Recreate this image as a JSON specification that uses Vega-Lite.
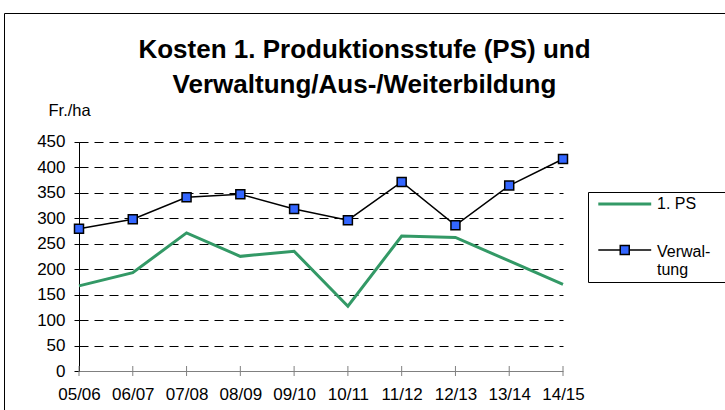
{
  "$schema": "https://vega.github.io/schema/vega-lite/v6.json",
  "width": 721,
  "height": 397,
  "autosize": {"type": "none"},
  "padding": {"left": 4, "top": 13, "right": 0, "bottom": 0},
  "background": "white",
  "config": {
    "font": "Liberation Sans",
    "view": {"stroke": "black", "strokeWidth": 1, "strokeDash": [721, 1118, 397, 0]}
  },
  "title": {
    "text": ["Kosten 1. Produktionsstufe (PS) und", "Verwaltung/Aus-/Weiterbildung"],
    "font": "Liberation Sans",
    "fontSize": 26,
    "fontWeight": "bold",
    "color": "black",
    "lineHeight": 35,
    "offset": -85,
    "anchor": "middle",
    "frame": "group"
  },
  "data": {
    "values": [
      {"year": "05/06", "series": "1. PS", "value": 167},
      {"year": "06/07", "series": "1. PS", "value": 193},
      {"year": "07/08", "series": "1. PS", "value": 271},
      {"year": "08/09", "series": "1. PS", "value": 225},
      {"year": "09/10", "series": "1. PS", "value": 235},
      {"year": "10/11", "series": "1. PS", "value": 127},
      {"year": "11/12", "series": "1. PS", "value": 265},
      {"year": "12/13", "series": "1. PS", "value": 262},
      {"year": "13/14", "series": "1. PS", "value": 216},
      {"year": "14/15", "series": "1. PS", "value": 170},
      {"year": "05/06", "series": "Verwaltung", "value": 279},
      {"year": "06/07", "series": "Verwaltung", "value": 298},
      {"year": "07/08", "series": "Verwaltung", "value": 341},
      {"year": "08/09", "series": "Verwaltung", "value": 347},
      {"year": "09/10", "series": "Verwaltung", "value": 318},
      {"year": "10/11", "series": "Verwaltung", "value": 296},
      {"year": "11/12", "series": "Verwaltung", "value": 371},
      {"year": "12/13", "series": "Verwaltung", "value": 286},
      {"year": "13/14", "series": "Verwaltung", "value": 364},
      {"year": "14/15", "series": "Verwaltung", "value": 416}
    ]
  },
  "encoding": {
    "x": {
      "field": "year",
      "type": "ordinal",
      "sort": null,
      "scale": {"type": "point", "range": [75, 559], "padding": 0},
      "axis": {
        "title": null,
        "offset": -39,
        "domainColor": "#808080",
        "domainWidth": 1,
        "ticks": false,
        "tickSize": 0,
        "labelPadding": 15,
        "labelAngle": 0,
        "labelFont": "Liberation Sans",
        "labelFontSize": 17,
        "labelColor": "black",
        "grid": false
      }
    },
    "y": {
      "field": "value",
      "type": "quantitative",
      "scale": {"domain": [0, 450], "range": [358, 128.7], "nice": false, "zero": true},
      "axis": {
        "title": "Fr./ha",
        "titleAngle": 0,
        "titleAlign": "left",
        "titleBaseline": "alphabetic",
        "titleX": -31,
        "titleY": 102,
        "titleFont": "Liberation Sans",
        "titleFontSize": 16.5,
        "titleFontWeight": "normal",
        "titleColor": "black",
        "offset": -75,
        "values": [0, 50, 100, 150, 200, 250, 300, 350, 400, 450],
        "domainColor": "black",
        "tickColor": "black",
        "tickSize": 5,
        "labelPadding": 9,
        "labelFont": "Liberation Sans",
        "labelFontSize": 17,
        "labelColor": "black",
        "grid": true,
        "gridColor": "black",
        "gridDash": [9, 6],
        "gridOpacity": {"condition": {"test": "datum.value === 0", "value": 0}, "value": 1}
      }
    }
  },
  "layer": [
    {
      "transform": [{"filter": "datum.series == '1. PS'"}],
      "mark": {"type": "line", "strokeWidth": 3},
      "encoding": {
        "color": {
          "field": "series",
          "type": "nominal",
          "scale": {"domain": ["1. PS", "Verwaltung"], "range": ["#339966", "#000000"]},
          "legend": {
            "title": null,
            "orient": "none",
            "legendX": 584,
            "legendY": 179,
            "strokeColor": "black",
            "fillColor": "white",
            "padding": 4,
            "cornerRadius": 0,
            "labelFont": "Liberation Sans",
            "labelFontSize": 16,
            "labelColor": "black",
            "labelLimit": 300,
            "symbolSize": 324,
            "symbolStrokeWidth": 1.5,
            "rowPadding": 30,
            "labelOffset": 49,
            "labelExpr": "datum.label == 'Verwaltung' ? ['Verwal-', 'tung'] : datum.label",
            "encode": {
              "symbols": {
                "update": {
                  "shape": {"signal": "datum.value == 'Verwaltung' ? 'M-0.19,0H2.25M3.25,0H5.69M2.25,-0.5H3.25V0.5H2.25ZM13.1,0' : 'M-0.19,0H5.69M13.1,0'"},
                  "fill": {"signal": "datum.value == 'Verwaltung' ? '#3366FF' : 'transparent'"},
                  "stroke": {"signal": "datum.value == 'Verwaltung' ? 'black' : '#339966'"},
                  "strokeWidth": {"signal": "datum.value == 'Verwaltung' ? 1.5 : 3"},
                  "opacity": {"value": 1}
                }
              },
              "labels": {
                "update": {
                  "lineHeight": {"value": 18},
                  "dy": {"signal": "datum.value == 'Verwaltung' ? 2 : 0"}
                }
              }
            }
          }
        }
      }
    },
    {
      "transform": [{"filter": "datum.series == 'Verwaltung'"}],
      "mark": {"type": "line", "strokeWidth": 1.5},
      "encoding": {
        "color": {
          "field": "series",
          "type": "nominal",
          "scale": {"domain": ["1. PS", "Verwaltung"], "range": ["#339966", "#000000"]}
        }
      }
    },
    {
      "transform": [{"filter": "datum.series == 'Verwaltung'"}],
      "mark": {"type": "point", "shape": "square", "size": 81, "filled": true, "fill": "#3366FF", "stroke": "black", "strokeWidth": 1.5, "opacity": 1}
    },
    {
      "transform": [{"filter": "datum.series == 'Verwaltung'"}],
      "mark": {"type": "tick", "orient": "vertical", "size": 10, "thickness": 1, "color": "#808080", "opacity": 1},
      "encoding": {
        "y": {"datum": 0, "type": "quantitative"}
      }
    }
  ]
}
